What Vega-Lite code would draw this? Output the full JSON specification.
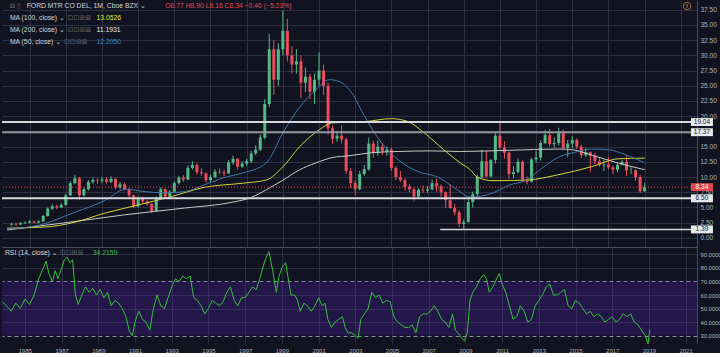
{
"$schema": "https://vega.github.io/schema/vega-lite/v6.json",
"background": "#111420",
"padding": 0,
"spacing": 0,
"config": {
  "view": {"stroke": null},
  "axis": {"labelFont": "Liberation Sans", "labelFontSize": 6.5, "labelColor": "#b2b5be", "gridColor": "#2c3040", "gridWidth": 1, "domainColor": "#4a4e5c", "ticks": false, "title": null, "labelOverlap": false},
  "text": {"font": "Liberation Sans, DejaVu Sans"}
},
"datasets": {
  "candles": [
    {"t":1984.00,"o":2.2,"h":2.5,"l":2.0,"c":2.3},{"t":1984.25,"o":2.3,"h":2.5,"l":2.0,"c":2.2},{"t":1984.50,"o":2.2,"h":2.6,"l":2.1,"c":2.4},{"t":1984.75,"o":2.4,"h":2.7,"l":2.3,"c":2.5},
    {"t":1985.00,"o":2.5,"h":2.9,"l":2.4,"c":2.7},{"t":1985.25,"o":2.7,"h":2.8,"l":2.4,"c":2.5},{"t":1985.50,"o":2.5,"h":2.9,"l":2.4,"c":2.7},{"t":1985.75,"o":2.7,"h":3.8,"l":2.6,"c":3.6},
    {"t":1986.00,"o":3.6,"h":5.0,"l":3.5,"c":4.8},{"t":1986.25,"o":4.8,"h":5.5,"l":4.6,"c":5.2},{"t":1986.50,"o":5.2,"h":5.4,"l":4.7,"c":5.0},{"t":1986.75,"o":5.0,"h":5.7,"l":4.9,"c":5.4},
    {"t":1987.00,"o":5.4,"h":7.3,"l":5.3,"c":7.0},{"t":1987.25,"o":7.0,"h":9.3,"l":6.9,"c":9.0},{"t":1987.50,"o":9.0,"h":10.4,"l":8.8,"c":9.8},{"t":1987.75,"o":9.8,"h":10.0,"l":6.2,"c":7.0},
    {"t":1988.00,"o":7.0,"h":8.3,"l":6.8,"c":8.0},{"t":1988.25,"o":8.0,"h":9.5,"l":7.8,"c":9.2},{"t":1988.50,"o":9.2,"h":9.9,"l":8.9,"c":9.5},{"t":1988.75,"o":9.5,"h":9.8,"l":8.9,"c":9.4},
    {"t":1989.00,"o":9.4,"h":10.0,"l":9.0,"c":9.6},{"t":1989.25,"o":9.6,"h":9.9,"l":8.9,"c":9.2},{"t":1989.50,"o":9.2,"h":10.1,"l":9.0,"c":9.7},{"t":1989.75,"o":9.7,"h":9.8,"l":8.0,"c":8.3},
    {"t":1990.00,"o":8.3,"h":9.2,"l":8.0,"c":8.8},{"t":1990.25,"o":8.8,"h":9.1,"l":7.8,"c":8.0},{"t":1990.50,"o":8.0,"h":8.2,"l":6.6,"c":7.0},{"t":1990.75,"o":7.0,"h":7.1,"l":4.9,"c":5.2},
    {"t":1991.00,"o":5.2,"h":6.8,"l":5.0,"c":6.4},{"t":1991.25,"o":6.4,"h":6.8,"l":5.7,"c":6.0},{"t":1991.50,"o":6.0,"h":6.2,"l":5.3,"c":5.6},{"t":1991.75,"o":5.6,"h":5.7,"l":4.1,"c":4.4},
    {"t":1992.00,"o":4.4,"h":6.8,"l":4.3,"c":6.5},{"t":1992.25,"o":6.5,"h":8.3,"l":6.3,"c":8.0},{"t":1992.50,"o":8.0,"h":8.1,"l":6.4,"c":6.8},{"t":1992.75,"o":6.8,"h":7.9,"l":6.6,"c":7.6},
    {"t":1993.00,"o":7.6,"h":9.3,"l":7.5,"c":9.0},{"t":1993.25,"o":9.0,"h":10.2,"l":8.8,"c":9.9},{"t":1993.50,"o":9.9,"h":10.3,"l":9.2,"c":9.6},{"t":1993.75,"o":9.6,"h":11.9,"l":9.5,"c":11.5},
    {"t":1994.00,"o":11.5,"h":12.6,"l":11.2,"c":12.0},{"t":1994.25,"o":12.0,"h":12.2,"l":10.4,"c":10.8},{"t":1994.50,"o":10.8,"h":11.4,"l":10.2,"c":10.6},{"t":1994.75,"o":10.6,"h":10.8,"l":9.1,"c":9.5},
    {"t":1995.00,"o":9.5,"h":10.4,"l":9.2,"c":10.0},{"t":1995.25,"o":10.0,"h":11.3,"l":9.8,"c":10.9},{"t":1995.50,"o":10.9,"h":11.4,"l":10.5,"c":10.8},{"t":1995.75,"o":10.8,"h":11.2,"l":10.1,"c":10.6},
    {"t":1996.00,"o":10.6,"h":12.8,"l":10.5,"c":12.4},{"t":1996.25,"o":12.4,"h":13.5,"l":12.0,"c":13.0},{"t":1996.50,"o":13.0,"h":13.1,"l":11.2,"c":11.7},{"t":1996.75,"o":11.7,"h":12.6,"l":11.5,"c":12.2},
    {"t":1997.00,"o":12.2,"h":13.0,"l":11.8,"c":12.6},{"t":1997.25,"o":12.6,"h":14.3,"l":12.3,"c":13.9},{"t":1997.50,"o":13.9,"h":15.2,"l":13.6,"c":14.5},{"t":1997.75,"o":14.5,"h":17.0,"l":14.3,"c":16.5},
    {"t":1998.00,"o":16.5,"h":22.8,"l":16.2,"c":22.0},{"t":1998.25,"o":22.0,"h":33.5,"l":21.5,"c":31.0},{"t":1998.50,"o":31.0,"h":32.5,"l":23.5,"c":26.0},{"t":1998.75,"o":26.0,"h":32.0,"l":25.0,"c":31.0},
    {"t":1999.00,"o":31.0,"h":37.3,"l":30.0,"c":34.0},{"t":1999.25,"o":34.0,"h":36.0,"l":29.0,"c":30.0},{"t":1999.50,"o":30.0,"h":31.5,"l":27.0,"c":28.5},{"t":1999.75,"o":28.5,"h":31.0,"l":27.0,"c":29.0},
    {"t":2000.00,"o":29.0,"h":30.0,"l":23.0,"c":25.5},{"t":2000.25,"o":25.5,"h":28.0,"l":24.0,"c":26.5},{"t":2000.50,"o":26.5,"h":27.0,"l":22.8,"c":24.0},{"t":2000.75,"o":24.0,"h":27.0,"l":22.0,"c":26.0},
    {"t":2001.00,"o":26.0,"h":30.5,"l":25.0,"c":27.5},{"t":2001.25,"o":27.5,"h":28.5,"l":23.5,"c":25.0},{"t":2001.50,"o":25.0,"h":25.5,"l":17.0,"c":18.0},{"t":2001.75,"o":18.0,"h":18.5,"l":15.5,"c":16.3},
    {"t":2002.00,"o":16.3,"h":17.5,"l":15.8,"c":16.8},{"t":2002.25,"o":16.8,"h":18.5,"l":15.5,"c":16.2},{"t":2002.50,"o":16.2,"h":16.5,"l":10.5,"c":11.0},{"t":2002.75,"o":11.0,"h":11.5,"l":8.2,"c":9.0},
    {"t":2003.00,"o":9.0,"h":9.5,"l":7.0,"c":8.0},{"t":2003.25,"o":8.0,"h":11.0,"l":7.8,"c":10.5},{"t":2003.50,"o":10.5,"h":12.0,"l":10.2,"c":11.3},{"t":2003.75,"o":11.3,"h":16.5,"l":11.0,"c":15.5},
    {"t":2004.00,"o":15.5,"h":16.0,"l":13.2,"c":14.0},{"t":2004.25,"o":14.0,"h":16.0,"l":13.5,"c":15.0},{"t":2004.50,"o":15.0,"h":15.5,"l":13.6,"c":14.2},{"t":2004.75,"o":14.2,"h":15.0,"l":13.5,"c":14.5},
    {"t":2005.00,"o":14.5,"h":14.8,"l":11.0,"c":11.5},{"t":2005.25,"o":11.5,"h":11.8,"l":9.5,"c":10.0},{"t":2005.50,"o":10.0,"h":11.0,"l":9.2,"c":9.5},{"t":2005.75,"o":9.5,"h":9.8,"l":7.8,"c":8.4},
    {"t":2006.00,"o":8.4,"h":8.8,"l":7.5,"c":8.0},{"t":2006.25,"o":8.0,"h":8.3,"l":6.1,"c":6.8},{"t":2006.50,"o":6.8,"h":8.2,"l":6.6,"c":7.9},{"t":2006.75,"o":7.9,"h":8.6,"l":7.4,"c":7.8},
    {"t":2007.00,"o":7.8,"h":8.5,"l":7.4,"c":8.0},{"t":2007.25,"o":8.0,"h":9.6,"l":7.8,"c":9.0},{"t":2007.50,"o":9.0,"h":9.7,"l":7.6,"c":8.5},{"t":2007.75,"o":8.5,"h":8.8,"l":6.8,"c":7.5},
    {"t":2008.00,"o":7.5,"h":7.6,"l":4.9,"c":6.2},{"t":2008.25,"o":6.2,"h":8.8,"l":4.8,"c":4.9},{"t":2008.50,"o":4.9,"h":5.6,"l":3.7,"c":4.2},{"t":2008.75,"o":4.2,"h":4.6,"l":1.8,"c":2.3},
    {"t":2009.00,"o":2.3,"h":3.0,"l":1.5,"c":2.6},{"t":2009.25,"o":2.6,"h":6.5,"l":2.5,"c":5.9},{"t":2009.50,"o":5.9,"h":7.6,"l":5.0,"c":7.2},{"t":2009.75,"o":7.2,"h":10.4,"l":6.8,"c":10.0},
    {"t":2010.00,"o":10.0,"h":14.5,"l":9.8,"c":12.6},{"t":2010.25,"o":12.6,"h":14.4,"l":9.8,"c":10.1},{"t":2010.50,"o":10.1,"h":13.0,"l":9.9,"c":12.8},{"t":2010.75,"o":12.8,"h":17.2,"l":12.2,"c":16.8},
    {"t":2011.00,"o":16.8,"h":19.0,"l":14.5,"c":14.9},{"t":2011.25,"o":14.9,"h":15.9,"l":13.0,"c":14.0},{"t":2011.50,"o":14.0,"h":14.2,"l":9.6,"c":10.5},{"t":2011.75,"o":10.5,"h":11.8,"l":9.8,"c":10.8},
    {"t":2012.00,"o":10.8,"h":13.1,"l":10.6,"c":12.5},{"t":2012.25,"o":12.5,"h":12.7,"l":9.2,"c":9.6},{"t":2012.50,"o":9.6,"h":10.1,"l":8.8,"c":9.2},{"t":2012.75,"o":9.2,"h":13.1,"l":9.1,"c":12.9},
    {"t":2013.00,"o":12.9,"h":14.3,"l":12.4,"c":13.2},{"t":2013.25,"o":13.2,"h":16.0,"l":12.7,"c":15.6},{"t":2013.50,"o":15.6,"h":17.7,"l":15.4,"c":16.9},{"t":2013.75,"o":16.9,"h":17.9,"l":15.0,"c":15.4},
    {"t":2014.00,"o":15.4,"h":16.5,"l":14.8,"c":15.6},{"t":2014.25,"o":15.6,"h":18.1,"l":15.2,"c":17.2},{"t":2014.50,"o":17.2,"h":17.8,"l":14.5,"c":14.8},{"t":2014.75,"o":14.8,"h":16.1,"l":13.3,"c":15.5},
    {"t":2015.00,"o":15.5,"h":16.7,"l":14.8,"c":16.1},{"t":2015.25,"o":16.1,"h":16.4,"l":14.6,"c":15.0},{"t":2015.50,"o":15.0,"h":15.3,"l":13.1,"c":13.6},{"t":2015.75,"o":13.6,"h":14.8,"l":13.3,"c":14.1},
    {"t":2016.00,"o":14.1,"h":14.2,"l":10.8,"c":13.5},{"t":2016.25,"o":13.5,"h":14.0,"l":12.1,"c":12.6},{"t":2016.50,"o":12.6,"h":13.1,"l":11.7,"c":12.0},{"t":2016.75,"o":12.0,"h":12.9,"l":11.0,"c":12.1},
    {"t":2017.00,"o":12.1,"h":13.3,"l":11.3,"c":11.6},{"t":2017.25,"o":11.6,"h":11.9,"l":10.5,"c":11.2},{"t":2017.50,"o":11.2,"h":12.3,"l":10.8,"c":12.0},{"t":2017.75,"o":12.0,"h":12.8,"l":11.9,"c":12.5},
    {"t":2018.00,"o":12.5,"h":13.5,"l":10.2,"c":11.1},{"t":2018.25,"o":11.1,"h":11.8,"l":10.5,"c":11.1},{"t":2018.50,"o":11.1,"h":11.3,"l":9.4,"c":10.0},{"t":2018.75,"o":10.0,"h":10.4,"l":7.4,"c":7.65},
    {"t":2019.00,"o":7.65,"h":9.0,"l":7.6,"c":8.34}
  ],
  "ma": [
    {"t":1983.75,"s":"MA200","v":1.3},{"t":1987.02,"s":"MA200","v":2.5},{"t":1990.29,"s":"MA200","v":3.8},{"t":1993.56,"s":"MA200","v":4.9},{"t":1996.28,"s":"MA200","v":5.9},{"t":1997.21,"s":"MA200","v":6.6},{"t":1998.08,"s":"MA200","v":7.9},{"t":1999.01,"s":"MA200","v":9.5},{"t":1999.93,"s":"MA200","v":11.2},{"t":2000.81,"s":"MA200","v":12.3},{"t":2001.73,"s":"MA200","v":13.2},{"t":2002.66,"s":"MA200","v":13.5},{"t":2003.91,"s":"MA200","v":14.0},{"t":2005.39,"s":"MA200","v":14.2},{"t":2007.18,"s":"MA200","v":14.3},{"t":2008.82,"s":"MA200","v":14.2},{"t":2011.54,"s":"MA200","v":14.4},{"t":2014.27,"s":"MA200","v":14.6},{"t":2015.0,"s":"MA200","v":14.5},{"t":2016.07,"s":"MA200","v":13.6},{"t":2017.54,"s":"MA200","v":12.3},{"t":2019.01,"s":"MA200","v":11.2},
    {"t":1983.75,"s":"MA100","v":1.6},{"t":1985.93,"s":"MA100","v":1.8},{"t":1987.4,"s":"MA100","v":2.5},{"t":1989.2,"s":"MA100","v":4.1},{"t":1991.0,"s":"MA100","v":5.4},{"t":1992.85,"s":"MA100","v":6.8},{"t":1994.65,"s":"MA100","v":8.3},{"t":1996.83,"s":"MA100","v":9.0},{"t":1998.08,"s":"MA100","v":9.5},{"t":1999.01,"s":"MA100","v":11.7},{"t":1999.93,"s":"MA100","v":15.0},{"t":2001.03,"s":"MA100","v":17.8},{"t":2001.73,"s":"MA100","v":18.9},{"t":2003.53,"s":"MA100","v":19.1},{"t":2005.0,"s":"MA100","v":19.6},{"t":2005.93,"s":"MA100","v":19.1},{"t":2006.8,"s":"MA100","v":17.3},{"t":2007.89,"s":"MA100","v":14.5},{"t":2008.82,"s":"MA100","v":12.3},{"t":2009.36,"s":"MA100","v":11.2},{"t":2009.74,"s":"MA100","v":10.0},{"t":2010.62,"s":"MA100","v":9.4},{"t":2012.47,"s":"MA100","v":9.5},{"t":2014.27,"s":"MA100","v":10.4},{"t":2016.07,"s":"MA100","v":11.7},{"t":2017.54,"s":"MA100","v":13.0},{"t":2019.01,"s":"MA100","v":13.1},
    {"t":1983.75,"s":"MA50","v":1.5},{"t":1985.55,"s":"MA50","v":2.1},{"t":1987.4,"s":"MA50","v":4.1},{"t":1989.2,"s":"MA50","v":6.2},{"t":1990.29,"s":"MA50","v":8.0},{"t":1991.38,"s":"MA50","v":7.6},{"t":1992.47,"s":"MA50","v":7.4},{"t":1993.56,"s":"MA50","v":7.6},{"t":1994.65,"s":"MA50","v":8.7},{"t":1995.74,"s":"MA50","v":9.9},{"t":1996.83,"s":"MA50","v":10.7},{"t":1998.08,"s":"MA50","v":12.3},{"t":1999.01,"s":"MA50","v":17.3},{"t":1999.93,"s":"MA50","v":21.5},{"t":2000.81,"s":"MA50","v":24.3},{"t":2001.57,"s":"MA50","v":26.0},{"t":2002.12,"s":"MA50","v":25.7},{"t":2002.82,"s":"MA50","v":23.8},{"t":2003.53,"s":"MA50","v":19.9},{"t":2004.46,"s":"MA50","v":15.6},{"t":2005.39,"s":"MA50","v":12.8},{"t":2006.47,"s":"MA50","v":10.9},{"t":2007.56,"s":"MA50","v":10.0},{"t":2008.65,"s":"MA50","v":7.9},{"t":2009.36,"s":"MA50","v":6.7},{"t":2010.62,"s":"MA50","v":7.4},{"t":2011.54,"s":"MA50","v":8.7},{"t":2012.47,"s":"MA50","v":9.5},{"t":2013.34,"s":"MA50","v":11.5},{"t":2014.27,"s":"MA50","v":13.3},{"t":2015.19,"s":"MA50","v":14.1},{"t":2016.07,"s":"MA50","v":14.6},{"t":2016.99,"s":"MA50","v":14.5},{"t":2017.92,"s":"MA50","v":13.7},{"t":2019.01,"s":"MA50","v":12.3}
  ],
  "rsi": [
    {"t":1983.75,"r":55},{"t":1984.0,"r":52},{"t":1984.25,"r":48},{"t":1984.5,"r":54},{"t":1984.75,"r":50},{"t":1985.0,"r":57},{"t":1985.25,"r":53},{"t":1985.5,"r":60},{"t":1985.75,"r":72},{"t":1986.0,"r":80},{"t":1986.15,"r":85},{"t":1986.3,"r":76},{"t":1986.5,"r":70},{"t":1986.65,"r":78},{"t":1986.8,"r":72},{"t":1987.0,"r":80},{"t":1987.15,"r":86},{"t":1987.3,"r":88},{"t":1987.45,"r":84},{"t":1987.6,"r":86},{"t":1987.75,"r":60},{"t":1987.9,"r":53},
    {"t":1988.1,"r":60},{"t":1988.3,"r":66},{"t":1988.5,"r":62},{"t":1988.7,"r":65},{"t":1988.9,"r":60},{"t":1989.1,"r":64},{"t":1989.3,"r":58},{"t":1989.5,"r":62},{"t":1989.7,"r":52},{"t":1989.9,"r":56},{"t":1990.1,"r":54},{"t":1990.3,"r":50},{"t":1990.5,"r":44},{"t":1990.7,"r":33},{"t":1990.85,"r":30},{"t":1991.0,"r":40},{"t":1991.2,"r":48},{"t":1991.4,"r":42},{"t":1991.6,"r":40},{"t":1991.8,"r":34},
    {"t":1992.0,"r":50},{"t":1992.2,"r":60},{"t":1992.4,"r":52},{"t":1992.6,"r":50},{"t":1992.8,"r":58},{"t":1993.0,"r":66},{"t":1993.2,"r":72},{"t":1993.4,"r":70},{"t":1993.6,"r":74},{"t":1993.8,"r":72},{"t":1994.0,"r":74},{"t":1994.2,"r":58},{"t":1994.4,"r":56},{"t":1994.6,"r":52},{"t":1994.8,"r":46},{"t":1995.0,"r":50},{"t":1995.2,"r":56},{"t":1995.4,"r":54},{"t":1995.6,"r":52},{"t":1995.8,"r":55},
    {"t":1996.0,"r":62},{"t":1996.2,"r":66},{"t":1996.4,"r":56},{"t":1996.6,"r":52},{"t":1996.8,"r":58},{"t":1997.0,"r":58},{"t":1997.2,"r":62},{"t":1997.4,"r":66},{"t":1997.6,"r":64},{"t":1997.8,"r":72},{"t":1998.0,"r":82},{"t":1998.15,"r":88},{"t":1998.3,"r":92},{"t":1998.5,"r":78},{"t":1998.7,"r":62},{"t":1998.85,"r":74},{"t":1999.0,"r":80},{"t":1999.2,"r":84},{"t":1999.35,"r":72},{"t":1999.5,"r":60},{"t":1999.7,"r":60},{"t":1999.85,"r":56},
    {"t":2000.0,"r":48},{"t":2000.2,"r":54},{"t":2000.4,"r":52},{"t":2000.6,"r":48},{"t":2000.8,"r":52},{"t":2001.0,"r":58},{"t":2001.2,"r":52},{"t":2001.35,"r":54},{"t":2001.5,"r":42},{"t":2001.7,"r":36},{"t":2001.9,"r":40},{"t":2002.1,"r":42},{"t":2002.3,"r":44},{"t":2002.45,"r":36},{"t":2002.6,"r":32},{"t":2002.8,"r":32},{"t":2003.0,"r":30},{"t":2003.15,"r":28},{"t":2003.3,"r":42},{"t":2003.5,"r":46},{"t":2003.7,"r":50},{"t":2003.9,"r":62},
    {"t":2004.1,"r":58},{"t":2004.3,"r":60},{"t":2004.5,"r":54},{"t":2004.7,"r":56},{"t":2004.9,"r":55},{"t":2005.1,"r":44},{"t":2005.3,"r":40},{"t":2005.5,"r":38},{"t":2005.7,"r":36},{"t":2005.9,"r":36},{"t":2006.1,"r":38},{"t":2006.3,"r":32},{"t":2006.5,"r":44},{"t":2006.7,"r":46},{"t":2006.9,"r":46},{"t":2007.1,"r":48},{"t":2007.3,"r":52},{"t":2007.5,"r":48},{"t":2007.7,"r":42},{"t":2007.9,"r":40},
    {"t":2008.1,"r":36},{"t":2008.3,"r":46},{"t":2008.45,"r":34},{"t":2008.6,"r":32},{"t":2008.8,"r":28},{"t":2008.95,"r":26},{"t":2009.1,"r":32},{"t":2009.25,"r":56},{"t":2009.4,"r":62},{"t":2009.6,"r":66},{"t":2009.8,"r":72},{"t":2010.0,"r":75},{"t":2010.15,"r":72},{"t":2010.3,"r":62},{"t":2010.5,"r":66},{"t":2010.7,"r":72},{"t":2010.85,"r":76},{"t":2011.0,"r":68},{"t":2011.2,"r":62},{"t":2011.4,"r":52},{"t":2011.6,"r":42},{"t":2011.8,"r":44},
    {"t":2012.0,"r":52},{"t":2012.2,"r":48},{"t":2012.4,"r":40},{"t":2012.6,"r":42},{"t":2012.8,"r":52},{"t":2013.0,"r":56},{"t":2013.2,"r":60},{"t":2013.4,"r":66},{"t":2013.6,"r":68},{"t":2013.8,"r":60},{"t":2014.0,"r":60},{"t":2014.2,"r":62},{"t":2014.4,"r":64},{"t":2014.6,"r":52},{"t":2014.8,"r":50},{"t":2015.0,"r":56},{"t":2015.2,"r":54},{"t":2015.4,"r":50},{"t":2015.6,"r":46},{"t":2015.8,"r":48},
    {"t":2016.0,"r":44},{"t":2016.2,"r":46},{"t":2016.4,"r":44},{"t":2016.6,"r":40},{"t":2016.8,"r":42},{"t":2017.0,"r":44},{"t":2017.2,"r":40},{"t":2017.4,"r":42},{"t":2017.6,"r":46},{"t":2017.8,"r":44},{"t":2018.0,"r":46},{"t":2018.2,"r":40},{"t":2018.4,"r":38},{"t":2018.6,"r":34},{"t":2018.8,"r":30},{"t":2018.95,"r":24},{"t":2019.05,"r":34.2}
  ],
  "levels": [{"p":19.04,"k":"w"},{"p":17.37,"k":"g"},{"p":6.5,"k":"w"}],
  "tags": [{"p":19.04,"lab":"19.04","k":"w"},{"p":17.37,"lab":"17.37","k":"w"},{"p":8.34,"lab":"8.34","k":"r"},{"p":6.5,"lab":"6.50","k":"w"},{"p":1.39,"lab":"1.39","k":"w"}]
},
"vconcat": [
  {
    "width": 695, "height": 247,
    "layer": [
      {
        "data": {"name": "candles"},
        "mark": {"type": "rule", "strokeWidth": 1},
        "encoding": {
          "x": {"field": "t", "type": "quantitative", "scale": {"domain": [1983.75, 2021.62], "nice": false, "zero": false},
                "axis": {"orient": "bottom", "values": [1985,1987,1989,1991,1993,1995,1997,1999,2001,2003,2005,2007,2009,2011,2013,2015,2017,2019,2021], "tickCount": 60, "labels": false, "grid": true, "domain": true, "labelOverlap": false}},
          "y": {"field": "l", "type": "quantitative", "scale": {"domain": [-1.5, 39.1], "nice": false, "zero": false},
                "axis": {"orient": "right", "values": [0,2.5,5,7.5,10,12.5,15,20,22.5,25,27.5,30,32.5,35,37.5], "tickCount": 60, "format": ".2f", "labelPadding": 3, "grid": true, "domain": true, "labelOverlap": false, "labelFontSize": 6.5}},
          "y2": {"field": "h"},
          "color": {"condition": {"test": "datum.c >= datum.o", "value": "#53b987"}, "value": "#eb4d5c"}
        }
      },
      {
        "data": {"name": "candles"},
        "mark": {"type": "bar", "width": 3},
        "encoding": {
          "x": {"field": "t", "type": "quantitative"},
          "y": {"field": "o", "type": "quantitative"},
          "y2": {"field": "c"},
          "color": {"condition": {"test": "datum.c >= datum.o", "value": "#53b987"}, "value": "#eb4d5c"}
        }
      },
      {
        "data": {"name": "ma"},
        "mark": {"type": "line", "strokeWidth": 1, "interpolate": "monotone"},
        "encoding": {
          "x": {"field": "t", "type": "quantitative"},
          "y": {"field": "v", "type": "quantitative"},
          "color": {"field": "s", "type": "nominal", "scale": {"domain": ["MA50","MA100","MA200"], "range": ["#3d79a8","#d3d33c","#c9c9c9"]}, "legend": null},
          "order": {"field": "t"}
        }
      },
      {
        "data": {"values": [{"p": 8.34}]},
        "mark": {"type": "rule", "color": "#e0474f", "strokeDash": [1, 2], "strokeWidth": 1},
        "encoding": {"y": {"field": "p", "type": "quantitative"}}
      },
      {
        "data": {"name": "levels"},
        "mark": {"type": "rule", "strokeWidth": 2},
        "encoding": {
          "y": {"field": "p", "type": "quantitative"},
          "color": {"condition": {"test": "datum.k == 'g'", "value": "#9598a1"}, "value": "#d6d8de"}
        }
      },
      {
        "data": {"values": [{"p": 1.39}]},
        "mark": {"type": "rule", "strokeWidth": 1.5, "color": "#d6d8de"},
        "encoding": {"y": {"field": "p", "type": "quantitative"}, "x": {"datum": 2007.7}, "x2": {"datum": 2021.62}}
      },
      {
        "data": {"name": "tags"},
        "mark": {"type": "point", "shape": "M-1,-0.36H1V0.36H-1Z", "filled": true, "size": 484, "opacity": 1},
        "encoding": {
          "x": {"datum": 2022.17},
          "y": {"field": "p", "type": "quantitative"},
          "color": {"condition": {"test": "datum.k == 'r'", "value": "#e0474f"}, "value": "#e8e9ed"}
        }
      },
      {
        "data": {"name": "tags"},
        "mark": {"type": "text", "fontSize": 6.5, "align": "center", "baseline": "middle"},
        "encoding": {
          "x": {"datum": 2022.17},
          "y": {"field": "p", "type": "quantitative"},
          "text": {"field": "lab"},
          "color": {"condition": {"test": "datum.k == 'r'", "value": "#ffffff"}, "value": "#131722"}
        }
      },
      {
        "data": {"values": [{"s": "⊟ ▯"}]},
        "mark": {"type": "text", "align": "left", "baseline": "middle", "fontSize": 6.5, "color": "#787b86"},
        "encoding": {"x": {"datum": 1983.9}, "y": {"datum": 38.11}, "text": {"field": "s"}}
      },
      {
        "data": {"values": [{"s": "FORD MTR CO DEL, 1M, Cboe BZX ⌄"}]},
        "mark": {"type": "text", "align": "left", "baseline": "middle", "fontSize": 6.8, "color": "#d1d4dc"},
        "encoding": {"x": {"datum": 1984.84}, "y": {"datum": 38.11}, "text": {"field": "s"}}
      },
      {
        "data": {"values": [{"s": "O8.77  H8.90  L8.16  C8.34  −0.46 (−5.23%)"}]},
        "mark": {"type": "text", "align": "left", "baseline": "middle", "fontSize": 6.8, "color": "#e0474f"},
        "encoding": {"x": {"datum": 1992.5}, "y": {"datum": 38.11}, "text": {"field": "s"}}
      },
      {
        "data": {"values": [{"s": "MA (100, close) ⌄"}]},
        "mark": {"type": "text", "align": "left", "baseline": "middle", "fontSize": 6.8, "color": "#d1d4dc"},
        "encoding": {"x": {"datum": 1983.91}, "y": {"datum": 36.14}, "text": {"field": "s"}}
      },
      {
        "data": {"values": [{"s": "MA (200, close) ⌄"}]},
        "mark": {"type": "text", "align": "left", "baseline": "middle", "fontSize": 6.8, "color": "#d1d4dc"},
        "encoding": {"x": {"datum": 1983.91}, "y": {"datum": 34.17}, "text": {"field": "s"}}
      },
      {
        "data": {"values": [{"s": "MA (50, close) ⌄"}]},
        "mark": {"type": "text", "align": "left", "baseline": "middle", "fontSize": 6.8, "color": "#d1d4dc"},
        "encoding": {"x": {"datum": 1983.91}, "y": {"datum": 32.19}, "text": {"field": "s"}}
      },
      {
        "data": {"values": [{"y": 36.14}, {"y": 34.17}]},
        "mark": {"type": "text", "align": "left", "baseline": "middle", "fontSize": 7, "color": "#5d606b", "font": "DejaVu Sans", "text": "⊡⊡⊞⊠"},
        "encoding": {"x": {"datum": 1987.1}, "y": {"field": "y", "type": "quantitative"}}
      },
      {
        "data": {"values": [{"y": 32.19}]},
        "mark": {"type": "text", "align": "left", "baseline": "middle", "fontSize": 7, "color": "#5d606b", "font": "DejaVu Sans", "text": "⊡⊡⊞⊠"},
        "encoding": {"x": {"datum": 1986.9}, "y": {"field": "y", "type": "quantitative"}}
      },
      {
        "data": {"values": [{"s": "13.0526"}]},
        "mark": {"type": "text", "align": "left", "baseline": "middle", "fontSize": 6.8, "color": "#e6e633"},
        "encoding": {"x": {"datum": 1988.7}, "y": {"datum": 36.14}, "text": {"field": "s"}}
      },
      {
        "data": {"values": [{"s": "11.1931"}]},
        "mark": {"type": "text", "align": "left", "baseline": "middle", "fontSize": 6.8, "color": "#e8e9ed"},
        "encoding": {"x": {"datum": 1988.7}, "y": {"datum": 34.17}, "text": {"field": "s"}}
      },
      {
        "data": {"values": [{"s": "12.2050"}]},
        "mark": {"type": "text", "align": "left", "baseline": "middle", "fontSize": 6.8, "color": "#3d85c6"},
        "encoding": {"x": {"datum": 1988.7}, "y": {"datum": 32.19}, "text": {"field": "s"}}
      },
      {
        "data": {"values": [{"s": "!"}]},
        "mark": {"type": "point", "shape": "circle", "filled": false, "size": 55, "color": "#f0902e", "strokeWidth": 1},
        "encoding": {"x": {"datum": 2021.35}, "y": {"datum": 38.1}}
      },
      {
        "data": {"values": [{"s": "!"}]},
        "mark": {"type": "text", "fontSize": 6, "fontWeight": "bold", "color": "#f0902e", "align": "center", "baseline": "middle"},
        "encoding": {"x": {"datum": 2021.35}, "y": {"datum": 38.1}, "text": {"field": "s"}}
      }
    ]
  },
  {
    "width": 695, "height": 96,
    "layer": [
      {
        "data": {"values": [{"a": 30, "b": 70, "x1": 1983.75, "x2": 2021.62}]},
        "mark": {"type": "rect", "color": "#5c1fc4", "opacity": 0.25},
        "encoding": {
          "x": {"field": "x1", "type": "quantitative", "scale": {"domain": [1983.75, 2021.62], "nice": false, "zero": false},
                "axis": {"orient": "bottom", "values": [1985,1987,1989,1991,1993,1995,1997,1999,2001,2003,2005,2007,2009,2011,2013,2015,2017,2019,2021], "tickCount": 60, "format": "d", "labelFontSize": 6, "labelPadding": 4, "grid": true, "domain": false, "labelOverlap": false, "labelFlush": false}},
          "x2": {"field": "x2"},
          "y": {"field": "a", "type": "quantitative", "scale": {"domain": [24.5, 95.5], "nice": false, "zero": false},
                "axis": {"orient": "right", "values": [30,40,50,60,70,80,90], "tickCount": 60, "format": ".4f", "labelPadding": 3, "labelFontSize": 5.8, "grid": true, "domain": true, "labelOverlap": false,
                         "gridDash": {"condition": {"test": "datum.value == 30 || datum.value == 70", "value": [4, 3]}, "value": []},
                         "gridColor": {"condition": {"test": "datum.value == 30 || datum.value == 70", "value": "#8e90a0"}, "value": "#2c3040"}}},
          "y2": {"field": "b"}
        }
      },
      {
        "data": {"name": "rsi"},
        "mark": {"type": "line", "color": "#35c13a", "strokeWidth": 1},
        "encoding": {
          "x": {"field": "t", "type": "quantitative"},
          "y": {"field": "r", "type": "quantitative"},
          "order": {"field": "t"}
        }
      },
      {
        "data": {"values": [{"s": "RSI (14, close) ⌄"}]},
        "mark": {"type": "text", "align": "left", "baseline": "middle", "fontSize": 6.8, "color": "#d1d4dc"},
        "encoding": {"x": {"datum": 1983.91}, "y": {"datum": 90.8}, "text": {"field": "s"}}
      },
      {
        "data": {"values": [{"y": 90.8}]},
        "mark": {"type": "text", "align": "left", "baseline": "middle", "fontSize": 7, "color": "#5d606b", "font": "DejaVu Sans", "text": "⊡⊡⊞⊠"},
        "encoding": {"x": {"datum": 1986.9}, "y": {"field": "y", "type": "quantitative"}}
      },
      {
        "data": {"values": [{"s": "34.2159"}]},
        "mark": {"type": "text", "align": "left", "baseline": "middle", "fontSize": 6.8, "color": "#35c13a"},
        "encoding": {"x": {"datum": 1988.7}, "y": {"datum": 90.8}, "text": {"field": "s"}}
      }
    ]
  }
]
}
